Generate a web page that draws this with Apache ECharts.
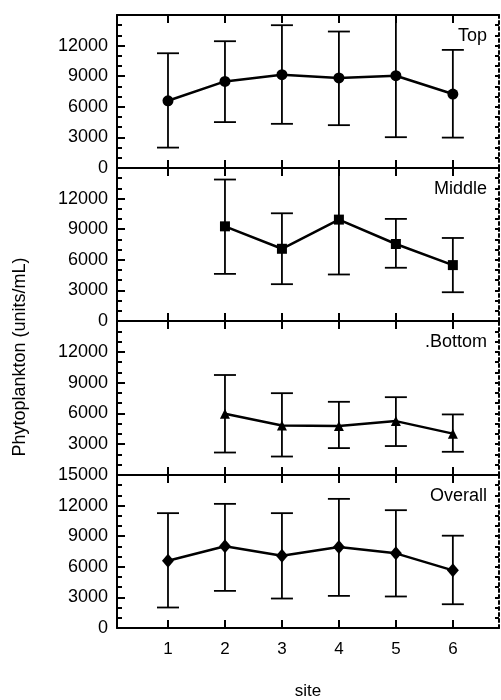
<!DOCTYPE html>
<html>
<head>
<meta charset="utf-8">
<script src="https://cdn.jsdelivr.net/npm/echarts@6/dist/echarts.min.js"></script>
<style>
  html, body { margin: 0; padding: 0; background: #fff; }
  #chart { width: 501px; height: 700px; }
</style>
</head>
<body>
<div id="chart"></div>
<script>
// sites on the x axis
const sites = [1, 2, 3, 4, 5, 6]

// mean and error-bar ends per depth (units/mL)
const topMean = [6590, 8490, 9150, 8830, 9050, 7250]
const topHigh = [11250, 12430, 14000, 13380, 16000, 11580]
const topLow = [2000, 4500, 4330, 4200, 3020, 2980]

const midMean = [null, 9280, 7080, 9940, 7550, 5480]
const midHigh = [null, 13870, 10560, 16000, 10010, 8140]
const midLow = [null, 4620, 3610, 4560, 5220, 2820]

const botMean = [null, 5970, 4820, 4780, 5250, 4030]
const botHigh = [null, 9740, 7970, 7130, 7580, 5900]
const botLow = [null, 2190, 1800, 2620, 2820, 2260]

const allMean = [6590, 8010, 7090, 7940, 7320, 5650]
const allHigh = [11260, 12170, 11260, 12660, 11550, 9050]
const allLow = [2010, 3640, 2890, 3150, 3090, 2330]

// y tick labels shown on each panel
const topTicks = [0, 3000, 6000, 9000, 12000]
const midTicks = [0, 3000, 6000, 9000, 12000]
const botTicks = [3000, 6000, 9000, 12000]
const allTicks = [0, 3000, 6000, 9000, 12000, 15000]

const panelNames = ['Top', 'Middle', '.Bottom', 'Overall']
const panelSymbols = ['circle', 'rect', 'triangle', 'diamond']

const FONT = "'Liberation Sans', Arial, Helvetica, sans-serif"

const panels = [
    { mean: topMean, high: topHigh, low: topLow, ticks: topTicks },
    { mean: midMean, high: midHigh, low: midLow, ticks: midTicks },
    { mean: botMean, high: botHigh, low: botLow, ticks: botTicks },
    { mean: allMean, high: allHigh, low: allLow, ticks: allTicks },
]

// layout
const gridTops = [15, 168, 321, 475]
const gridHeights = [153, 153, 154, 153]
const GRID_LEFT = 117
const GRID_WIDTH = 382
const symbolSizes = [11, 10, 10, [12, 14]]

function renderErrorBar(params, api) {
    const x = api.value(0)
    const lo = api.value(1)
    const hi = api.value(2)
    const cs = params.coordSys
    const pLo = api.coord([x, lo])
    const pHi = api.coord([x, hi])
    const yTop = Math.max(pHi[1], cs.y)
    const yBot = Math.min(pLo[1], cs.y + cs.height)
    const half = 11
    const style = { stroke: '#000', lineWidth: 1.8 }
    const children = [
        { type: 'line', shape: { x1: pLo[0], y1: yBot, x2: pLo[0], y2: yTop }, style }
    ]
    if (pHi[1] >= cs.y) children.push({ type: 'line', shape: { x1: pHi[0] - half, y1: pHi[1], x2: pHi[0] + half, y2: pHi[1] }, style })
    if (pLo[1] <= cs.y + cs.height) children.push({ type: 'line', shape: { x1: pLo[0] - half, y1: pLo[1], x2: pLo[0] + half, y2: pLo[1] }, style })
    return { type: 'group', children }
}

const grid = []
const xAxis = []
const yAxis = []
const series = []
const graphic = []

panels.forEach((p, i) => {
    const isLast = i === panels.length - 1
    grid.push({
        left: GRID_LEFT, top: gridTops[i], width: GRID_WIDTH, height: gridHeights[i],
        containLabel: false, outerBoundsMode: 'none'
    })

    const xBase = {
        type: 'value', gridIndex: i, min: 0.105, max: 6.81,
        splitLine: { show: false },
        axisLine: { show: true, onZero: false, lineStyle: { color: '#000', width: 2 } },
        axisTick: { show: true, inside: true, length: 8, customValues: sites, lineStyle: { color: '#000', width: 2 } },
    }
    // bottom axis
    xAxis.push(Object.assign({}, xBase, {
        position: 'bottom',
        axisLabel: {
            show: isLast, customValues: sites, margin: 13,
            color: '#000', fontSize: 17, fontFamily: FONT
        },
        name: isLast ? 'site' : '',
        nameLocation: 'middle',
        nameGap: 55,
        nameTextStyle: { color: '#000', fontSize: 17, fontFamily: FONT },
    }))
    // top border axis
    xAxis.push(Object.assign({}, xBase, {
        position: 'top',
        axisLabel: { show: false },
    }))

    const ticks = p.ticks
    yAxis.push({
        type: 'value', gridIndex: i, min: 0, max: 15000, interval: 3000,
        position: 'left',
        splitLine: { show: false },
        axisLine: { show: true, onZero: false, lineStyle: { color: '#000', width: 2 } },
        axisTick: { show: true, inside: true, length: 8, lineStyle: { color: '#000', width: 2 } },
        minorTick: { show: true, splitNumber: 3, length: 5, lineStyle: { color: '#000', width: 2 } },
        axisLabel: {
            margin: 9, color: '#000', fontSize: 18, fontFamily: FONT,
            showMinLabel: true, showMaxLabel: true,
            formatter: v => (ticks.includes(v) ? String(v) : '')
        },
    })
    // dotted right border
    yAxis.push({
        type: 'value', gridIndex: i, min: 0, max: 15000, interval: 1000,
        position: 'right',
        splitLine: { show: false },
        axisLine: { show: true, onZero: false, lineStyle: { color: '#000', width: 2, type: [3, 3] } },
        axisTick: { show: true, inside: true, length: 4, lineStyle: { color: '#000', width: 2 } },
        axisLabel: { show: false },
    })

    const errData = []
    const lineData = []
    sites.forEach((s, k) => {
        if (p.mean[k] == null) return
        errData.push([s, p.low[k], p.high[k]])
        lineData.push([s, p.mean[k]])
    })

    series.push({
        type: 'custom',
        xAxisIndex: i * 2,
        yAxisIndex: i * 2,
        renderItem: renderErrorBar,
        encode: { x: 0, y: [1, 2] },
        data: errData,
        silent: true,
        z: 2,
    })
    series.push({
        type: 'line',
        xAxisIndex: i * 2,
        yAxisIndex: i * 2,
        data: lineData,
        symbol: panelSymbols[i],
        symbolSize: symbolSizes[i],
        showAllSymbol: true,
        lineStyle: { color: '#000', width: 2.5 },
        itemStyle: { color: '#000', borderWidth: 0 },
        z: 3,
        animation: false,
    })

    graphic.push({
        type: 'text',
        right: 501 - 487,
        top: gridTops[i] + 12,
        style: { text: panelNames[i], fill: '#000', font: `18px ${FONT}` },
    })
})

graphic.push({
    type: 'text',
    x: 20,
    y: 357,
    rotation: Math.PI / 2,
    style: {
        text: 'Phytoplankton (units/mL)',
        fill: '#000',
        font: `18px ${FONT}`,
        align: 'center',
        verticalAlign: 'middle',
    },
})

const chart = echarts.init(document.getElementById('chart'), null, { renderer: 'canvas' })
chart.setOption({
    animation: false,
    backgroundColor: '#fff',
    textStyle: { fontFamily: FONT },
    grid,
    xAxis,
    yAxis,
    series,
    graphic,
})
</script>
</body>
</html>
